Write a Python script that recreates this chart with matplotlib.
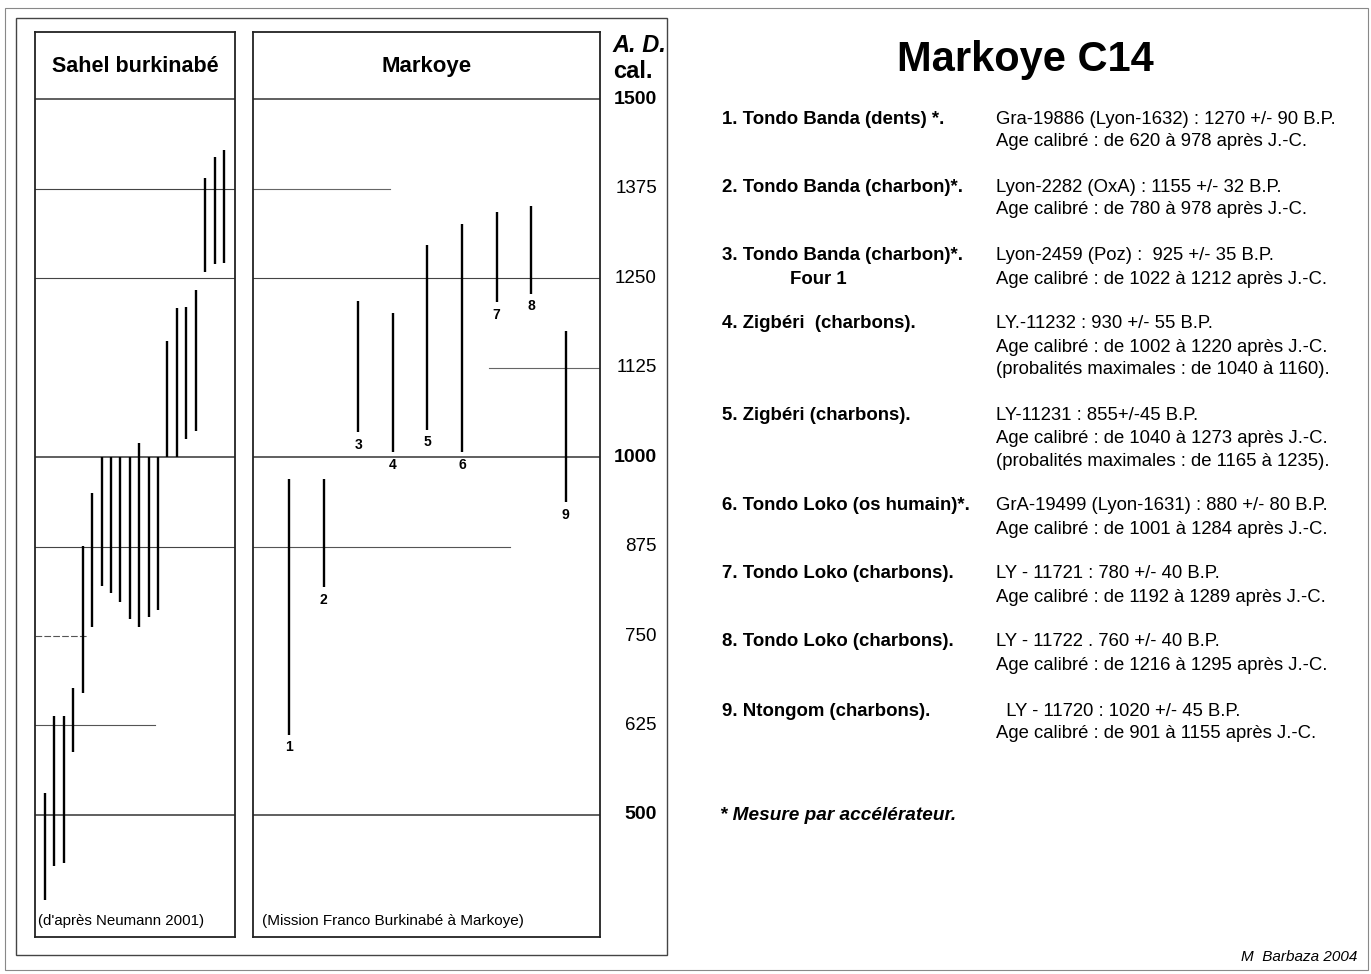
import matplotlib
matplotlib.use("Agg")
import matplotlib.pyplot as plt
from matplotlib.patches import Rectangle
import matplotlib.transforms as mtransforms

plt.rcParams['font.family'] = ['Liberation Sans', 'DejaVu Sans']

W, H = 1371, 974

# Sahel burkinabé dates (cal. AD), low / high, left to right
sahel_low = [381, 429, 433, 588, 670, 762, 820, 810, 797, 774,
             762, 777, 786, 1000, 1000, 1025, 1036, 1258, 1270, 1271]
sahel_high = [531, 638, 638, 677, 876, 950, 1000, 1000, 1000, 1000,
              1020, 1000, 1000, 1162, 1208, 1210, 1233, 1390, 1419, 1429]

# Markoye dates (cal. AD)
mk_ids = [1, 2, 3, 4, 5, 6, 7, 8, 9]
mk_low = [612, 818, 1035, 1007, 1038, 1007, 1216, 1228, 937]
mk_high = [969, 969, 1218, 1201, 1296, 1325, 1342, 1351, 1176]

# scale
ticks = [1500, 1375, 1250, 1125, 1000, 875, 750, 625, 500]
bold_ticks = [1500, 1000, 500]

# right-hand text
entry_titles = ["1. Tondo Banda (dents) *.", "2. Tondo Banda (charbon)*.",
                "3. Tondo Banda (charbon)*.", "4. Zigbéri  (charbons).",
                "5. Zigbéri (charbons).", "6. Tondo Loko (os humain)*.",
                "7. Tondo Loko (charbons).", "8. Tondo Loko (charbons).",
                "9. Ntongom (charbons)."]
entry_lines = [
    ["Gra-19886 (Lyon-1632) : 1270 +/- 90 B.P.", "Age calibré : de 620 à 978 après J.-C."],
    ["Lyon-2282 (OxA) : 1155 +/- 32 B.P.", "Age calibré : de 780 à 978 après J.-C."],
    ["Lyon-2459 (Poz) :  925 +/- 35 B.P.", "Age calibré : de 1022 à 1212 après J.-C."],
    ["LY.-11232 : 930 +/- 55 B.P.", "Age calibré : de 1002 à 1220 après J.-C.",
     "(probalités maximales : de 1040 à 1160)."],
    ["LY-11231 : 855+/-45 B.P.", "Age calibré : de 1040 à 1273 après J.-C.",
     "(probalités maximales : de 1165 à 1235)."],
    ["GrA-19499 (Lyon-1631) : 880 +/- 80 B.P.", "Age calibré : de 1001 à 1284 après J.-C."],
    ["LY - 11721 : 780 +/- 40 B.P.", "Age calibré : de 1192 à 1289 après J.-C."],
    ["LY - 11722 . 760 +/- 40 B.P.", "Age calibré : de 1216 à 1295 après J.-C."],
    ["  LY - 11720 : 1020 +/- 45 B.P.", "Age calibré : de 901 à 1155 après J.-C."],
]
entry_y = [119, 187, 256, 324, 415, 506, 574, 642, 711]


def fx(px):
    return px / W


def fy(py):
    return 1 - py / H


def panel(x0, x1, y0=32, y1=937):
    ax = fig.add_axes([fx(x0), fy(y1), fx(x1 - x0), (y1 - y0) / H])
    ax.set_ylim(329.6, 1593.6)
    ax.set_xticks([])
    ax.set_yticks([])
    for s in ax.spines.values():
        s.set_linewidth(1.3)
        s.set_color('#222222')
    return ax


fig = plt.figure(figsize=(W / 100, H / 100), dpi=100)

# page frames
fig.add_artist(Rectangle((fx(5), fy(970)), fx(1363), (970 - 8) / H, fill=False,
                         lw=0.8, ec='#888888', transform=fig.transFigure))
fig.add_artist(Rectangle((fx(16), fy(955)), fx(651), (955 - 18) / H, fill=False,
                         lw=1.0, ec='#444444', transform=fig.transFigure))

# --- Sahel panel
ax1 = panel(35, 235)
ax1.set_xlim(-1.06, 20.17)
for yv in [1500, 1375, 1250, 1000, 875, 500]:
    lw = 1.2 if yv in bold_ticks else 0.8
    ax1.axhline(yv, color='#444444', lw=lw)
ax1.axhline(750, xmin=0, xmax=0.26, color='#555555', lw=0.8, ls=(0, (6, 2)))
ax1.axhline(625, xmin=0, xmax=0.6, color='#555555', lw=0.8)
ax1.vlines(range(len(sahel_low)), sahel_low, sahel_high, color='black', lw=1.7)
ax1.text(0.5, 1545, "Sahel burkinabé", transform=ax1.get_yaxis_transform(),
         ha='center', va='center', fontsize=15.5, fontweight='bold')
ax1.text(0.015, 352, "(d'après Neumann 2001)", transform=ax1.get_yaxis_transform(),
         ha='left', va='center', fontsize=10.8)

# --- Markoye panel
ax2 = panel(253, 600)
ax2.set_xlim(-0.04, 9.99)
for yv in [1500, 1250, 1000, 500]:
    lw = 1.2 if yv in bold_ticks else 0.8
    ax2.axhline(yv, color='#444444', lw=lw)
ax2.axhline(1375, xmin=0, xmax=0.395, color='#666666', lw=0.8)
ax2.axhline(1125, xmin=0.68, xmax=1.0, color='#666666', lw=0.8)
ax2.axhline(875, xmin=0, xmax=0.74, color='#555555', lw=0.8)
ax2.vlines(mk_ids, mk_low, mk_high, color='black', lw=1.7)
for i, lo in zip(mk_ids, mk_low):
    ax2.annotate(str(i), (i, lo), xytext=(0, -4), textcoords='offset points',
                 ha='center', va='top', fontsize=10, fontweight='bold')
ax2.text(0.5, 1545, "Markoye", transform=ax2.get_yaxis_transform(),
         ha='center', va='center', fontsize=16, fontweight='bold')
ax2.text(0.025, 352, "(Mission Franco Burkinabé à Markoye)",
         transform=ax2.get_yaxis_transform(), ha='left', va='center', fontsize=11)

# scale labels
trans = mtransforms.blended_transform_factory(fig.transFigure, ax2.transData)
for t in ticks:
    bold = t in bold_ticks
    ax2.text(fx(657), t, str(t), transform=trans, ha='right', va='center',
             fontsize=14 if bold else 13.5, fontweight='bold' if bold else 'normal',
             clip_on=False)
fig.text(fx(612), fy(45), "A. D.", ha='left', va='center', fontsize=17,
         fontweight='bold', fontstyle='italic')
fig.text(fx(613), fy(72), "cal.", ha='left', va='center', fontsize=17,
         fontweight='bold')

# --- right text block
fig.text(fx(1025), fy(60), "Markoye C14", ha='center', va='center',
         fontsize=30, fontweight='bold')
for title, lines, y in zip(entry_titles, entry_lines, entry_y):
    fig.text(fx(722), fy(y), title, ha='left', va='center', fontsize=13.4,
             fontweight='bold')
    for k, ln in enumerate(lines):
        fig.text(fx(996), fy(y + 23 * k), ln, ha='left', va='center', fontsize=13.3)
fig.text(fx(790), fy(279), "Four 1", ha='left', va='center', fontsize=13.4,
         fontweight='bold')
fig.text(fx(720), fy(816), "* Mesure par accélérateur.", ha='left', va='center',
         fontsize=13.7, fontweight='bold', fontstyle='italic')
fig.text(fx(1357), fy(957), "M  Barbaza 2004", ha='right', va='center',
         fontsize=11, fontstyle='italic')

fig.savefig("out.png", dpi=100)
